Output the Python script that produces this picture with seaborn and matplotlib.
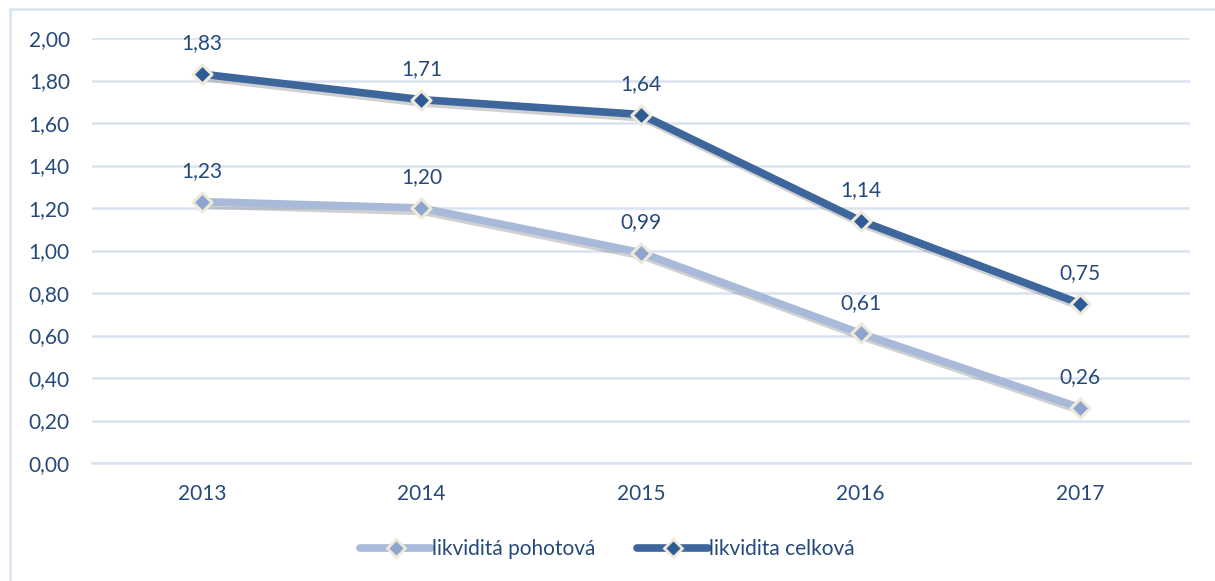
import numpy as np
import pandas as pd
import seaborn as sns
import matplotlib
import matplotlib.pyplot as plt
import matplotlib.patheffects as pe
from matplotlib.lines import Line2D
from matplotlib.patches import Rectangle

matplotlib.use('Agg')

# data
years = ['2013', '2014', '2015', '2016', '2017']
pohotova = [1.23, 1.20, 0.99, 0.61, 0.26]
celkova = [1.83, 1.71, 1.64, 1.14, 0.75]
series_names = ['likviditá pohotová', 'likvidita celková']

text_col = '#254A7A'
grid_col = '#D9E3F1'
line_cols = ['#A8B9DA', '#3D679C']
marker_cols = ['#8FA4CC', '#2F5B95']
edge_col = '#EEEADB'
fs = 15

sns.set_theme(style='white')
plt.rcParams['font.family'] = ['Lato', 'DejaVu Sans']

df = pd.DataFrame({
    'pos': list(range(len(years))) * 2,
    'value': pohotova + celkova,
    'series': [series_names[0]] * len(years) + [series_names[1]] * len(years),
})

fig = plt.figure(figsize=(12.15, 5.81), dpi=100)
ax = fig.add_axes([92 / 1215, 1 - 463 / 581, (1190 - 92) / 1215, (463 - 38) / 581])

sns.lineplot(data=df, x='pos', y='value', hue='series', palette=line_cols,
             linewidth=5.5, legend=False, ax=ax, zorder=3)

shadow = [pe.SimpleLineShadow(offset=(1.5, -2.5), shadow_color='#666666', alpha=0.3), pe.Normal()]
for ln in ax.lines:
    ln.set_path_effects(shadow)
    ln.set_solid_capstyle('butt')
    ln.set_solid_joinstyle('round')

# diamond markers
for vals, mc in zip([pohotova, celkova], marker_cols):
    sns.scatterplot(x=list(range(len(years))), y=vals, marker='D', s=95, color=mc,
                    edgecolor=edge_col, linewidth=2.2, ax=ax, zorder=4)

# data labels
for vals in [pohotova, celkova]:
    for i, v in enumerate(vals):
        ax.annotate(f'{v:.2f}'.replace('.', ','), (i, v), xytext=(0, 22),
                    textcoords='offset points', ha='center', va='center',
                    fontsize=fs, color=text_col)

ax.set_xlim(-0.5, 4.5)
ax.set_ylim(0, 2.0)
ax.set_yticks(np.arange(0, 2.01, 0.2))
ax.set_yticklabels([f'{t:.2f}'.replace('.', ',') for t in np.arange(0, 2.01, 0.2)])
ax.set_xticks(range(len(years)))
ax.set_xticklabels(years)
ax.set_xticks(np.arange(-0.5, 4.6, 1), minor=True)
ax.tick_params(axis='y', length=0, pad=16, labelsize=fs, labelcolor=text_col)
ax.tick_params(axis='x', which='major', length=0, pad=15, labelsize=fs, labelcolor=text_col)
ax.tick_params(axis='x', which='minor', length=5, width=1.5, color=grid_col, direction='out')
ax.set_xlabel('')
ax.set_ylabel('')

ax.grid(axis='y', color=grid_col, linewidth=1.8)
ax.set_axisbelow(True)
for s in ['top', 'right', 'left']:
    ax.spines[s].set_visible(False)
ax.spines['bottom'].set_color(grid_col)
ax.spines['bottom'].set_linewidth(1.8)
ax.spines['bottom'].set_zorder(1)

# legend
handles = [Line2D([0], [0], color=lc, lw=5.5, marker='D', markersize=9,
                  markerfacecolor=mc, markeredgecolor=edge_col, markeredgewidth=2)
           for lc, mc in zip(line_cols, marker_cols)]
leg = fig.legend(handles, series_names, loc='center', bbox_to_anchor=(0.5, 1 - 549 / 581),
                 ncol=2, frameon=False, fontsize=fs, handlelength=3.4, handletextpad=0.05,
                 columnspacing=2.0)
for t in leg.get_texts():
    t.set_color(text_col)

# chart frame
fig.patches.append(Rectangle((10 / 1215, -0.1), 1.2, 1 - 9 / 581 + 0.1, transform=fig.transFigure,
                             fill=False, edgecolor=grid_col, linewidth=1.8))

fig.savefig('out.png', dpi=100)
